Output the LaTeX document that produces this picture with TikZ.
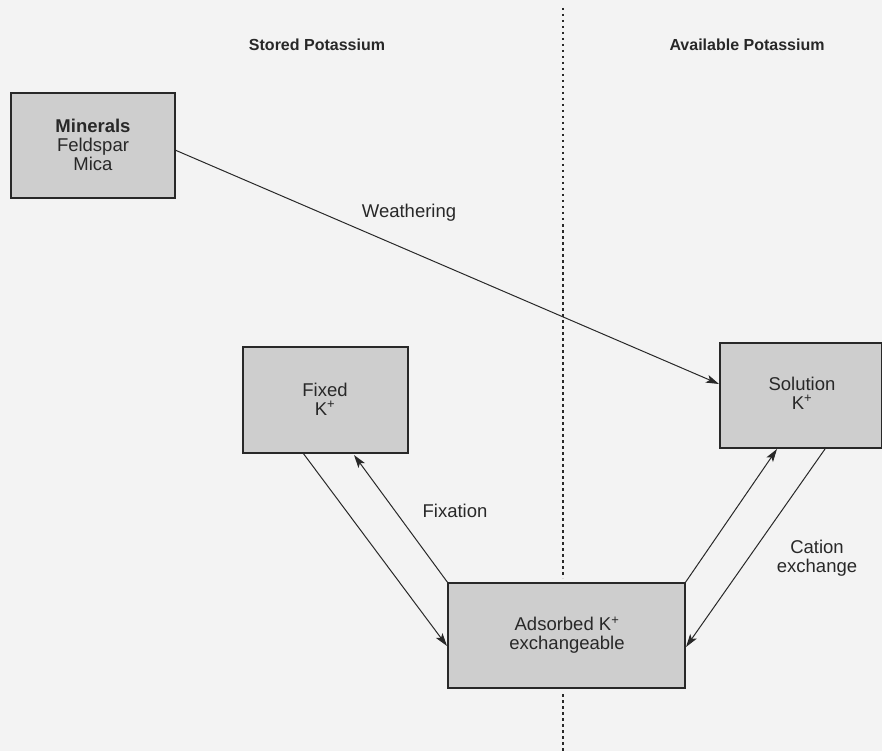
\documentclass[tikz,border=0pt]{standalone}
\usepackage{fontspec}
\setmainfont{Liberation Sans}
\usetikzlibrary{arrows.meta}
\definecolor{pagebg}{RGB}{243,243,243}
\definecolor{boxfill}{RGB}{206,206,206}
\definecolor{inkc}{RGB}{40,40,40}
\tikzset{
  kbox/.style={draw=inkc, line width=1.4pt, fill=boxfill, inner sep=0pt},
  ktext/.style={align=center, font=\fontsize{18.5}{19}\selectfont, text=inkc},
  ktitle/.style={font=\fontsize{16}{18}\selectfont\bfseries, text=inkc},
  flow/.style={draw=inkc, line width=1pt, -{Stealth[length=13pt,width=8pt,inset=3pt]}},
  divider/.style={inkc, line width=1.4pt, dash pattern=on 2.5pt off 3.5pt},
}
\begin{document}
\begin{tikzpicture}[x=1pt,y=-1pt]
\useasboundingbox (0,0) rectangle (882,751);
\fill[pagebg] (0,0) rectangle (882,751);
% dotted divider
\coordinate (dtop) at (563,8);
\coordinate (dmid1) at (563,578);
\coordinate (dmid2) at (563,694);
\coordinate (dbot) at (563,751);
\draw[divider] (dtop) -- (dmid1);
\draw[divider] (dmid2) -- (dbot);
% titles
\node[ktitle] (t1) at (317,45) {Stored Potassium};
\node[ktitle] (t2) at (747,45) {Available Potassium};
% boxes
\draw[kbox] (11,93) rectangle (175,198);
\node[ktext] (min) at (93,145) {\textbf{Minerals}\\Feldspar\\Mica};
\coordinate (minR) at (175,150);
\draw[kbox] (243,347) rectangle (408,453);
\node[ktext] (fix) at (325,399) {Fixed\\K\textsuperscript{+}};
\coordinate (fixBL) at (303,453);
\coordinate (fixBR) at (354,455);
\draw[kbox] (720,343) rectangle (882,448);
\node[ktext] (sol) at (802,393) {Solution\\K\textsuperscript{+}};
\coordinate (solL) at (719,384);
\coordinate (solBL) at (777,449);
\coordinate (solBR) at (825,449);
\draw[kbox] (448,583) rectangle (685,688);
\node[ktext] (ads) at (567,635) {Adsorbed K\textsuperscript{+}\\exchangeable};
\coordinate (adsTL) at (448,583);
\coordinate (adsL) at (447,646);
\coordinate (adsTR) at (685,583);
\coordinate (adsR) at (686,647);
% connectors
\draw[flow] (minR) -- (solL);
\draw[flow] (fixBL) -- (adsL);
\draw[flow] (adsTL) -- (fixBR);
\draw[flow] (adsTR) -- (solBL);
\draw[flow] (solBR) -- (adsR);
% labels
\node[ktext] (lw) at (409,213) {Weathering};
\node[ktext] (lf) at (455,511) {Fixation};
\node[ktext] (lc) at (817,558) {Cation\\exchange};
\end{tikzpicture}
\end{document}
